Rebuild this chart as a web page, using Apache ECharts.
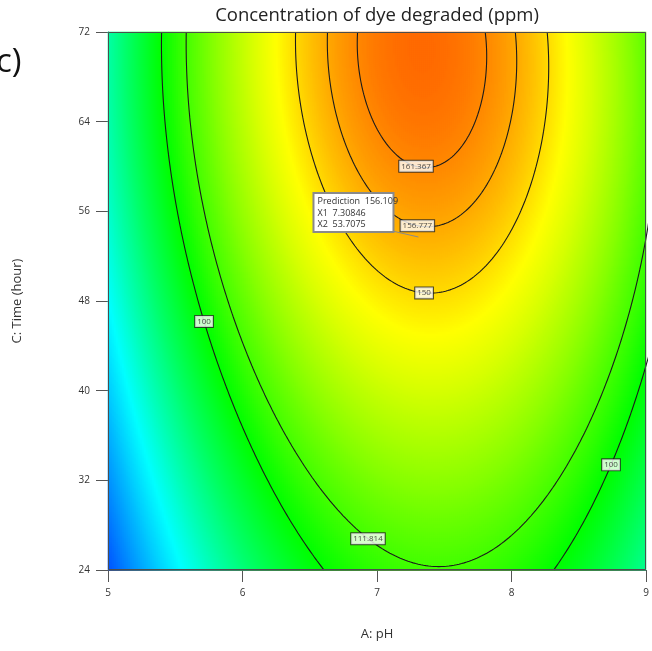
<!DOCTYPE html>
<html>
<head>
<meta charset="utf-8">
<script src="https://cdn.jsdelivr.net/npm/echarts@6/dist/echarts.min.js"></script>
<style>
  html, body { margin: 0; padding: 0; background: #ffffff; }
  #chart { width: 652px; height: 651px; }
</style>
</head>
<body>
<div id="chart"></div>
<script>
// ---- Factor ranges and axis ticks (actual units) ----
const phRange = [5, 9];
const timeRange = [24, 72];
const phTicks = [5, 6, 7, 8, 9];
const timeTicks = [24, 32, 40, 48, 56, 64, 72];

// ---- Fitted response surface in coded factors: A = (pH - 7) / 2, C = (time - 48) / 24 ----
const termNames = ['Intercept', 'A', 'C', 'AC', 'A²', 'C²', 'C³', 'A²C', 'AC²'];
const termPowA  = [0, 1, 0, 1, 2, 0, 0, 2, 1];
const termPowC  = [0, 0, 1, 1, 0, 2, 3, 1, 2];
const termCoefs = [146.53, 26.07, 31.79, -2.71, -66.0, -10.82, -4.10, -4.0, -0.26];

// ---- Contour levels (ppm) and the pH at which each level is labelled ----
const contourLevels = [100, 111.814, 150, 156.777, 161.367];
const labelLevels = [100, 100, 111.814, 150, 156.777, 161.367];
const labelPH = [5.714, 8.74, 6.933, 7.35, 7.30, 7.29];

// ---- Point prediction flag ----
const flagPH = 7.30846;
const flagTime = 53.7075;
const flagValue = 156.109;

// ---- Colour ramp for the response ----
const rampValues = [0, 55, 100, 145, 180];
const rampColors = ['#0000ff', '#00ffff', '#00ff00', '#ffff00', '#ff0000'];

const FONT = 'Open Sans';

function codedA(ph) { return (ph - 7) / 2; }
function codedC(hr) { return (hr - 48) / 24; }

function response(ph, hr) {
  const a = codedA(ph), c = codedC(hr);
  let y = 0;
  for (let i = 0; i < termCoefs.length; i++) {
    y += termCoefs[i] * Math.pow(a, termPowA[i]) * Math.pow(c, termPowC[i]);
  }
  return y;
}

// The model gathered as q0 + q1*A + q2*A^2 at a fixed time
function quadraticInA(hr) {
  const c = codedC(hr);
  const q = [0, 0, 0];
  for (let i = 0; i < termCoefs.length; i++) {
    q[termPowA[i]] += termCoefs[i] * Math.pow(c, termPowC[i]);
  }
  return q;
}

// Contour of one level, traced by solving for pH at each time
function contourBranches(level) {
  const disc = hr => {
    const q = quadraticInA(hr);
    return q[1] * q[1] - 4 * q[2] * (q[0] - level);
  };
  const lo = timeRange[0], hi = timeRange[1];
  if (disc(hi) < 0) return [];
  const closed = disc(lo) < 0;
  let start = lo;
  if (closed) {
    let a = lo, b = hi;
    for (let k = 0; k < 60; k++) {
      const m = (a + b) / 2;
      if (disc(m) < 0) a = m; else b = m;
    }
    start = b;
  }
  const left = [], right = [];
  const N = 240;
  for (let i = 0; i <= N; i++) {
    const s = i / N;
    const hr = start + (hi - start) * s * s;
    const q = quadraticInA(hr);
    const r = Math.sqrt(Math.max(0, disc(hr)));
    const r1 = (-q[1] - r) / (2 * q[2]);
    const r2 = (-q[1] + r) / (2 * q[2]);
    left.push([7 + 2 * Math.min(r1, r2), hr]);
    right.push([7 + 2 * Math.max(r1, r2), hr]);
  }
  if (closed) return [left.reverse().concat(right)];
  return [left, right];
}

// Time at which a level is crossed at a given pH
function levelTimeAt(ph, level) {
  let a = timeRange[0], b = timeRange[1];
  for (let k = 0; k < 60; k++) {
    const m = (a + b) / 2;
    if (response(ph, m) < level) a = m; else b = m;
  }
  return (a + b) / 2;
}

function hexToRgb(h) {
  return [parseInt(h.slice(1, 3), 16), parseInt(h.slice(3, 5), 16), parseInt(h.slice(5, 7), 16)];
}
function rampColor(v) {
  let i = 0;
  while (i < rampValues.length - 2 && v > rampValues[i + 1]) i++;
  const t = Math.min(1, Math.max(0, (v - rampValues[i]) / (rampValues[i + 1] - rampValues[i])));
  const c0 = hexToRgb(rampColors[i]), c1 = hexToRgb(rampColors[i + 1]);
  const c = c0.map((x, k) => Math.round(x + (c1[k] - x) * t));
  return 'rgb(' + c.join(',') + ')';
}
const rampMin = rampValues[0], rampMax = rampValues[rampValues.length - 1];
const rampList = [];
for (let v = rampMin; v <= rampMax + 1e-9; v += 2.5) rampList.push(rampColor(v));

// ---- Heat map cells ----
const NX = 269, NY = 269;
const xCats = [], yCats = [], cells = [];
for (let i = 0; i < NX; i++) xCats.push(i);
for (let j = 0; j < NY; j++) yCats.push(j);
for (let i = 0; i < NX; i++) {
  const ph = phRange[0] + (i + 0.5) * (phRange[1] - phRange[0]) / NX;
  for (let j = 0; j < NY; j++) {
    const hr = timeRange[0] + (j + 0.5) * (timeRange[1] - timeRange[0]) / NY;
    cells.push([i, j, response(ph, hr)]);
  }
}

// ---- Contour lines ----
const lineSeries = [];
contourLevels.forEach(level => {
  contourBranches(level).forEach(branch => {
    lineSeries.push({
      type: 'line',
      xAxisIndex: 1,
      yAxisIndex: 1,
      data: branch,
      symbol: 'none',
      showSymbol: false,
      smooth: false,
      clip: true,
      silent: true,
      z: 3,
      lineStyle: { color: '#1b1b1b', width: 1.1 }
    });
  });
});

// ---- Contour labels ----
const labelPoints = labelLevels.map((level, i) => [labelPH[i], levelTimeAt(labelPH[i], level), String(level)]);

const chart = echarts.init(document.getElementById('chart'), null, { renderer: 'canvas' });

const grid = { left: 108, top: 32, width: 538, height: 538 };

chart.setOption({
  animation: false,
  backgroundColor: '#ffffff',
  grid: Object.assign({ containLabel: false, show: false }, grid),
  visualMap: {
    show: false,
    type: 'continuous',
    seriesIndex: 0,
    dimension: 2,
    min: rampMin,
    max: rampMax,
    inRange: { color: rampList }
  },
  xAxis: [
    { type: 'category', data: xCats, show: false, position: 'top' },
    {
      type: 'value', min: phRange[0], max: phRange[1], interval: 1, position: 'bottom',
      axisLine: { show: true, onZero: false, lineStyle: { color: '#555', width: 1 } },
      axisTick: { show: true, length: 12, lineStyle: { color: '#555' } },
      axisLabel: {
        margin: 18, fontSize: 10, color: '#333', fontFamily: FONT,
        formatter: v => String(v)
      },
      splitLine: { show: false },
      name: 'A: pH', nameLocation: 'middle', nameGap: 58,
      nameTextStyle: { fontSize: 13, color: '#333', fontFamily: FONT }
    }
  ],
  yAxis: [
    { type: 'category', data: yCats, show: false, position: 'right' },
    {
      type: 'value', min: timeRange[0], max: timeRange[1], interval: 8, position: 'left',
      axisLine: { show: true, onZero: false, lineStyle: { color: '#555', width: 1 } },
      axisTick: { show: true, length: 12, lineStyle: { color: '#555' } },
      axisLabel: {
        margin: 18, fontSize: 10, color: '#333', fontFamily: FONT,
        formatter: v => String(v)
      },
      splitLine: { show: false },
      name: 'C: Time (hour)', nameLocation: 'middle', nameGap: 84, nameRotate: 90,
      nameTextStyle: { fontSize: 13, color: '#333', fontFamily: FONT }
    }
  ],
  series: [
    {
      type: 'heatmap',
      xAxisIndex: 0,
      yAxisIndex: 0,
      data: cells,
      progressive: 0,
      silent: true,
      z: 1,
      itemStyle: { borderWidth: 0 }
    }
  ].concat(lineSeries).concat([
    {
      type: 'scatter',
      xAxisIndex: 1,
      yAxisIndex: 1,
      data: labelPoints,
      symbolSize: 1,
      itemStyle: { color: 'rgba(0,0,0,0)' },
      silent: true,
      z: 4,
      label: {
        show: true,
        position: 'inside',
        formatter: p => p.data[2],
        fontSize: 8,
        fontFamily: FONT,
        color: '#222',
        backgroundColor: '#ffffff',
        borderColor: '#222',
        borderWidth: 1,
        padding: [2, 2, 1, 2]
      }
    }
  ]),
  graphic: [
    {
      id: 'title', type: 'text', x: grid.left + grid.width / 2, y: 6, z: 50,
      style: {
        text: 'Concentration of dye degraded (ppm)', textAlign: 'center', textVerticalAlign: 'top',
        fontSize: 18.5, fontFamily: FONT, fill: '#222'
      }
    },
    {
      id: 'panel', type: 'text', x: -4, y: 63, z: 50,
      style: {
        text: 'c)', textAlign: 'left', textVerticalAlign: 'middle',
        fontSize: 33, fontFamily: FONT, fill: '#111'
      }
    },
    {
      id: 'frame', type: 'rect', z: 50, silent: true,
      shape: { x: grid.left + 0.5, y: grid.top + 0.5, width: grid.width - 1, height: grid.height - 1 },
      style: { fill: null, stroke: '#4d4d4d', lineWidth: 1 }
    }
  ]
});

// ---- Prediction flag, placed from the flagged point ----
const p = chart.convertToPixel({ xAxisIndex: 1, yAxisIndex: 1 }, [flagPH, flagTime]);
const boxW = 80, boxH = 39;
const bx = p[0] - 25 - boxW, by = p[1] - 5 - boxH;
chart.setOption({
  graphic: [
    {
      id: 'flagLeader', type: 'line', z: 60, silent: true,
      shape: { x1: p[0] - 26, y1: p[1] - 6, x2: p[0], y2: p[1] },
      style: { stroke: '#8a8a8a', lineWidth: 1 }
    },
    {
      id: 'flagBox', type: 'rect', z: 61, silent: true,
      shape: { x: bx, y: by, width: boxW, height: boxH },
      style: { fill: '#ffffff', stroke: '#8a8a8a', lineWidth: 2 }
    },
    {
      id: 'flagText', type: 'text', z: 62, silent: true, x: bx + 4, y: by + 3,
      style: {
        text: 'Prediction  ' + flagValue + '\nX1  ' + flagPH + '\nX2  ' + flagTime,
        fontSize: 9, lineHeight: 11.5, fontFamily: FONT, fill: '#333',
        textAlign: 'left', textVerticalAlign: 'top'
      }
    }
  ]
});
</script>
</body>
</html>
